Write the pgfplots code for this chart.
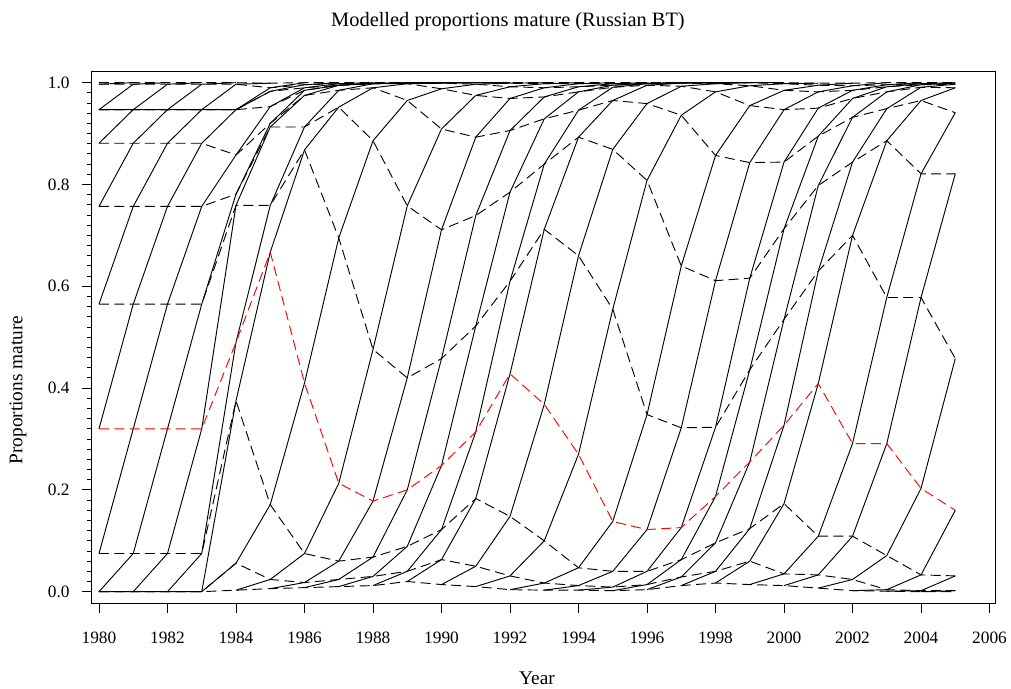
\documentclass[border=0pt]{standalone}
\usepackage{pgfplots}
\usepackage{pgfplotstable}
\pgfplotsset{compat=1.18}
\usepackage{fontspec}
\setmainfont{Liberation Serif}

\pgfplotstableread{
year a0 a1 a2 a3 a4 a5 a6 a7 a8 a9 a10
1980 0 0 0.075 0.32 0.565 0.757 0.881 0.947 0.947 0.997 1.0
1981 0 0 0.075 0.32 0.565 0.757 0.881 0.947 0.947 0.997 1.0
1982 0 0 0.075 0.32 0.565 0.757 0.881 0.947 0.947 0.997 1.0
1983 0 0 0.075 0.32 0.565 0.757 0.881 0.947 0.947 0.997 1.0
1984 0.003 0.056 0.375 0.49 0.759 0.781 0.858 0.947 0.947 0.997 1.0
1985 0.006 0.024 0.171 0.667 0.759 0.913 0.920 0.953 0.983 0.990 0.999
1986 0.008 0.018 0.075 0.41 0.868 0.913 0.975 0.985 0.990 0.996 1.0
1987 0.010 0.024 0.060 0.213 0.695 0.952 0.985 0.995 0.995 0.998 1.0
1988 0.012 0.030 0.068 0.178 0.476 0.886 0.990 0.998 0.998 0.999 1.0
1989 0.020 0.040 0.089 0.200 0.420 0.758 0.965 0.998 0.999 1.0 1.0
1990 0.014 0.063 0.122 0.248 0.458 0.711 0.909 0.988 0.999 1.0 1.0
1991 0.010 0.050 0.183 0.314 0.522 0.739 0.893 0.975 0.997 1.0 1.0
1992 0.004 0.031 0.148 0.428 0.610 0.785 0.906 0.969 0.992 0.999 1.0
1993 0.003 0.017 0.100 0.368 0.712 0.840 0.929 0.972 0.990 0.998 1.0
1994 0.003 0.012 0.047 0.270 0.660 0.893 0.946 0.982 0.992 0.998 1.0
1995 0.002 0.009 0.040 0.138 0.555 0.869 0.965 0.991 0.995 0.998 1.0
1996 0.004 0.014 0.040 0.122 0.348 0.808 0.959 0.995 0.998 0.999 1.0
1997 0.012 0.029 0.063 0.126 0.322 0.640 0.936 0.993 0.999 1.0 1.0
1998 0.017 0.040 0.096 0.187 0.323 0.611 0.857 0.982 0.998 1.0 1.0
1999 0.014 0.060 0.124 0.255 0.436 0.616 0.843 0.955 0.994 1.0 1.0
2000 0.012 0.035 0.173 0.327 0.535 0.713 0.844 0.947 0.985 0.998 1.0
2001 0.007 0.033 0.109 0.409 0.630 0.798 0.895 0.950 0.982 0.995 0.999
2002 0.002 0.024 0.109 0.291 0.700 0.844 0.932 0.969 0.985 0.994 0.999
2003 0.001 0.004 0.071 0.291 0.578 0.886 0.949 0.982 0.992 0.996 1.0
2004 0.000 0.002 0.033 0.203 0.578 0.821 0.965 0.991 0.996 0.998 1.0
2005 0.000 0.002 0.031 0.160 0.458 0.821 0.941 0.990 0.997 0.999 1.0
}\mat

% cohort (year-class) lines: (year, age) -> (year+1, age+1)
\gdef\allcohorts{}
\newcommand\addcohort[2]{%
  \pgfmathtruncatemacro\nn{min(25-#1,10-#2)}%
  \gdef\coords{}%
  \foreach \kk in {0,...,\nn}{%
    \pgfmathtruncatemacro\rr{#1+\kk}%
    \pgfmathtruncatemacro\cci{#2+\kk}%
    \pgfplotstablegetelem{\rr}{a\cci}\of\mat
    \pgfmathtruncatemacro\yr{1980+\rr}%
    \xdef\coords{\coords(\yr,\pgfplotsretval)}%
  }%
  \xdef\allcohorts{\unexpanded\expandafter{\allcohorts}\noexpand\addplot[cohort] coordinates {\coords};}%
}
\foreach \s in {0,...,9}{\addcohort{0}{\s}}
\foreach \s in {1,...,24}{\addcohort{\s}{0}}

\pgfplotsset{
  cohort/.style={black,line width=0.7pt,mark=none},
  agedash/.style={black,line width=0.7pt,dash pattern=on 7.5pt off 4pt,mark=none},
}

\begin{document}
\begin{tikzpicture}
\useasboundingbox (0,0) rectangle (758.25pt,516.75pt);
\begin{axis}[
  at={(68.775pt,64.275pt)}, anchor=south west,
  scale only axis, width=678pt, height=398.7pt,
  xmin=1979.787, xmax=2006.18, ymin=-0.0228, ymax=1.0216,
  xtick={1980,1982,...,2006},
  ytick={0,0.2,0.4,0.6,0.8,1},
  minor y tick num=9,
  tick align=outside, tick pos=left,
  major tick length=7pt, minor tick length=3.5pt,
  every tick/.style={black,line width=0.7pt},
  axis line style={line width=0.9pt},
  ticklabel style={font=\fontsize{13}{15}\selectfont},
  x tick label style={yshift=-11pt,/pgf/number format/.cd,1000 sep={},assume math mode=true},
  y tick label style={xshift=-6pt,/pgf/number format/.cd,fixed,fixed zerofill,precision=1,assume math mode=true},
  title={Modelled proportions mature (Russian BT)},
  title style={at={(axis description cs:0.4605,1.0795)},anchor=center,font=\fontsize{15.3}{17}\selectfont},
  xlabel={Year},
  xlabel style={at={(axis description cs:0.4926,-0.1405)},anchor=center,font=\fontsize{14.5}{16}\selectfont},
  ylabel={Proportions mature},
  ylabel style={at={(axis description cs:-0.0815,0.4012)},anchor=center,rotate=0,font=\fontsize{14.5}{16}\selectfont},
]
\allcohorts
\pgfplotsinvokeforeach{0,1,2,4,5,6,7,8,9,10}{\addplot[agedash] table[x=year,y=a#1]{\mat};}
\addplot[agedash,red] table[x=year,y=a3]{\mat};
\end{axis}
\end{tikzpicture}
\end{document}
